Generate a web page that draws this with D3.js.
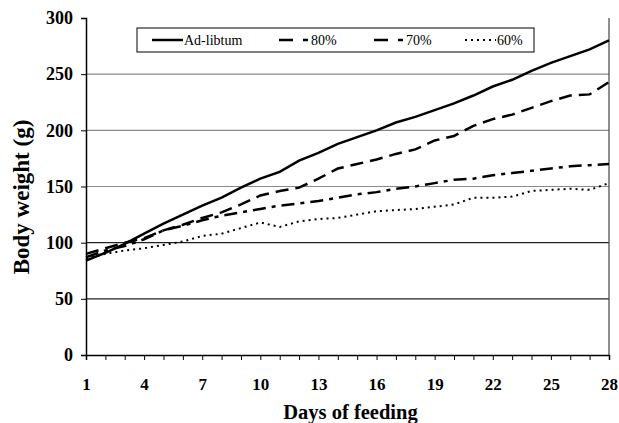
<!DOCTYPE html>
<html><head><meta charset="utf-8">
<script src="https://cdn.jsdelivr.net/npm/d3@7"></script>
<style>body{margin:0;background:#fff}svg{display:block}
text{font-family:"Liberation Serif","Times New Roman","DejaVu Serif",serif}</style>
</head><body><svg id="c" width="619" height="423"></svg>
<script>
const days = d3.range(1, 29);
const seriesNames = ["Ad-libtum", "80%", "70%", "60%"];
const adLib = [84,91,99,108,117,125,133,140,149,157,163,173,180,188,194,200,207,212,218,224,231,239,245,253,260,266,272,280];
const p80 = [90,95,100,104,111,116,122,127,134,142,146,149,157,166,170,174,179,183,191,195,204,210,214,220,226,231,232,243];
const p70 = [87,93,97,103,111,115,120,124,127,130,133,135,137,140,143,145,148,150,153,156,157,160,162,164,166,168,169,170];
const p60 = [86,90,93,95,98,101,106,108,113,118,114,119,121,122,125,128,129,130,132,134,140,140,141,146,147,148,147,153];
const yTicks = [0,50,100,150,200,250,300];
const xTickLabels = [1,4,7,10,13,16,19,22,25,28];

const svg = d3.select("#c");
const L = 86, R = 609, T = 18, B = 355;
const x = d3.scaleLinear().domain([1,28]).range([L,R]);
const y = d3.scaleLinear().domain([0,300]).range([B,T]);
const font = '"Liberation Serif","Times New Roman","DejaVu Serif",serif';

// gridlines
svg.append("g").selectAll("line").data(yTicks.filter(v=>v>0 && v<300)).join("line")
  .attr("x1",L).attr("x2",R).attr("y1",d=>y(d)).attr("y2",d=>y(d))
  .attr("stroke",d=>d>=150?"#8a8a8a":"#222").attr("stroke-width",1.2);
// right border
svg.append("line").attr("x1",R).attr("x2",R).attr("y1",T).attr("y2",B).attr("stroke","#444").attr("stroke-width",1.2);

// y axis
const ya = svg.append("g").attr("transform",`translate(${L},0)`)
  .call(d3.axisLeft(y).tickValues(yTicks).tickSize(5).tickPadding(8));
ya.attr("font-family",null);
ya.select(".domain").attr("stroke","#000").attr("stroke-width",1.5);
ya.selectAll(".tick line").attr("stroke","#000");
ya.selectAll("text").style("font-family",font).attr("font-weight","bold").attr("font-size",18).attr("fill","#000");

// x axis
const xa = svg.append("g").attr("transform",`translate(0,${B})`)
  .call(d3.axisBottom(x).tickValues(days).tickSize(5).tickPadding(18)
    .tickFormat(d=>xTickLabels.includes(d)?d:""));
xa.attr("font-family",null);
xa.select(".domain").attr("stroke","#000").attr("stroke-width",1.5);
xa.selectAll(".tick line").attr("stroke","#000");
xa.selectAll("text").style("font-family",font).attr("font-weight","bold").attr("font-size",17).attr("fill","#000");

// titles
svg.append("text").attr("x",(L+R)/2+3).attr("y",419).attr("text-anchor","middle")
  .style("font-family",font).attr("font-weight","bold").attr("font-size",20.5).text("Days of feeding");
svg.append("text").attr("transform",`translate(29,${197}) rotate(-90)`).attr("text-anchor","middle")
  .style("font-family",font).attr("font-weight","bold").attr("font-size",23).text("Body weight (g)");

// lines
const dashes = ["none","13,7","13,6,4,6","2,4"];
const data = [adLib,p80,p70,p60];
const line = d3.line().x((d,i)=>x(days[i])).y(d=>y(d));
data.forEach((s,k)=>{
  svg.append("path").datum(s).attr("d",line).attr("fill","none")
    .attr("stroke","#000").attr("stroke-width",k==3?2:2.5)
    .attr("stroke-dasharray",dashes[k]);
});

// legend
const lg = svg.append("g");
lg.append("rect").attr("x",137).attr("y",28).attr("width",397).attr("height",24)
  .attr("fill","#fff").attr("stroke","#000").attr("stroke-width",1);
const lx = [152,279,374,465];
seriesNames.forEach((n,k)=>{
  lg.append("line").attr("x1",lx[k]).attr("x2",lx[k]+31).attr("y1",40).attr("y2",40)
    .attr("stroke","#000").attr("stroke-width",k==3?2:2.5)
    .attr("stroke-dasharray",k==0?"none":(k==3?"2,4":"14,10,5,10"));
  lg.append("text").attr("x",lx[k]+32).attr("y",45).style("font-family",font)
    .attr("font-size",14).text(n);
});
</script></body></html>
